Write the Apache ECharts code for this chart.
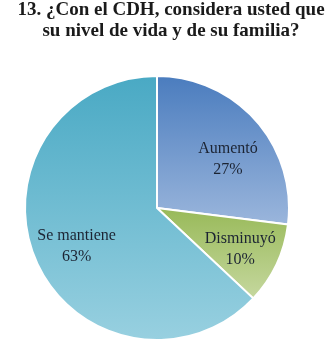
<!DOCTYPE html>
<html>
<head>
<meta charset="utf-8">
<script src="https://cdn.jsdelivr.net/npm/echarts@6/dist/echarts.min.js"></script>
<style>
  html, body { margin: 0; padding: 0; background: #fff; }
  #chart { width: 331px; height: 350px; }
</style>
</head>
<body>
<div id="chart"></div>
<script>
// datos
const categories = ['Aumentó', 'Disminuyó', 'Se mantiene']
const values = [27, 10, 63]
const titleLines = ['13. ¿Con el CDH, considera usted que', 'su nivel de vida y de su familia?']

// degradados tipo Excel, de arriba hacia abajo
const gradients = [
  ['#4a7cbe', '#9bb6dc'],
  ['#98b958', '#c6d89f'],
  ['#49a9c4', '#98d0e0']
]
// pequeños ajustes de etiqueta como en Excel
const labelOffsets = [[2, 12], [0, 2], [4, 2]]

function grad(c) {
  return new echarts.graphic.LinearGradient(0, 0, 0, 1, [
    { offset: 0, color: c[0] },
    { offset: 1, color: c[1] }
  ])
}

const serif = '"Liberation Serif", "DejaVu Serif", serif'
const center = [157, 208]

const chart = echarts.init(document.getElementById('chart'))
chart.setOption({
  animation: false,
  title: {
    text: titleLines.join('\n'),
    left: 171,
    top: 0,
    padding: 0,
    textAlign: 'center',
    textStyle: {
      fontFamily: serif,
      fontWeight: 'bold',
      fontSize: 19,
      lineHeight: 21,
      color: '#1a1a1a'
    }
  },
  series: [
    {
      type: 'pie',
      center: center,
      radius: [0, 132],
      startAngle: 90,
      clockwise: true,
      silent: true,
      label: { show: false },
      labelLine: { show: false },
      itemStyle: { borderColor: '#fff', borderWidth: 2 },
      data: categories.map((c, i) => ({
        name: c,
        value: values[i],
        itemStyle: { color: grad(gradients[i]) }
      }))
    },
    {
      // serie solo para colocar las etiquetas más afuera
      type: 'pie',
      center: center,
      radius: [46, 132],
      startAngle: 90,
      clockwise: true,
      silent: true,
      itemStyle: { color: 'rgba(0,0,0,0)' },
      label: {
        show: true,
        position: 'inside',
        formatter: p => p.name + '\n' + p.value + '%',
        fontFamily: serif,
        fontSize: 16,
        lineHeight: 21,
        color: '#1c2433'
      },
      labelLine: { show: false },
      data: categories.map((c, i) => ({
        name: c,
        value: values[i],
        label: { offset: labelOffsets[i] }
      }))
    }
  ]
})
</script>
</body>
</html>
